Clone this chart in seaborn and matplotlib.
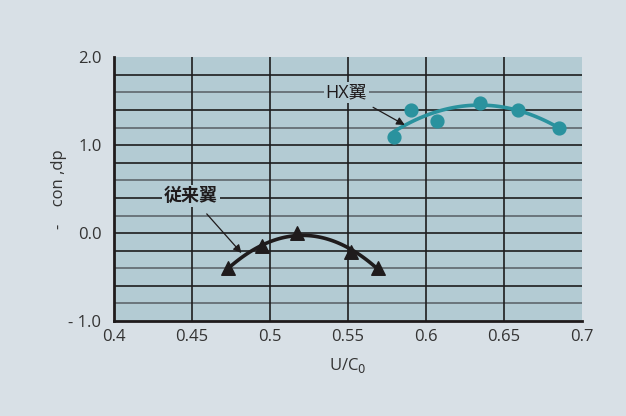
import numpy as np
import pandas as pd
import seaborn as sns
import matplotlib.pyplot as plt
from matplotlib.ticker import MultipleLocator

# conventional blade (triangles)
old_x = [0.4733, 0.4951, 0.5171, 0.5523, 0.5696]
old_y = [-0.40, -0.15, 0.00, -0.22, -0.40]
# HX blade (circles)
hx_x = [0.5793, 0.5904, 0.6073, 0.6346, 0.6590, 0.6857]
hx_y = [1.09, 1.40, 1.28, 1.48, 1.40, 1.19]

xticks = [0.4, 0.45, 0.5, 0.55, 0.6, 0.65, 0.7]
xticklabels = ['0.4', '0.45', '0.5', '0.55', '0.6', '0.65', '0.7']
yticks = [-1.0, 0.0, 1.0, 2.0]
yticklabels = ['- 1.0', '0.0', '1.0', '2.0']
grid_y = [-0.8, -0.6, -0.4, -0.2, 0.0, 0.2, 0.4, 0.6, 0.8, 1.0, 1.2, 1.4, 1.6, 1.8]
grid_dark = [False, True, False, True, True, False, True, False, True, True, False, True, False, True]

old = pd.DataFrame({'x': old_x, 'y': old_y})
hx = pd.DataFrame({'x': hx_x, 'y': hx_y})

sns.set_style('white')
plt.rcParams['font.family'] = ['Open Sans', 'Noto Sans CJK JP', 'DejaVu Sans']

bg = '#d8e0e6'
panel = '#b3cbd3'
teal = '#2a929e'
ink = '#1f1b1c'
txt = '#333333'

fig = plt.figure(figsize=(6.26, 4.16), dpi=100, facecolor=bg)
ax = fig.add_axes([0.1821, 0.2284, 0.7471, 0.6339])
ax.set_facecolor(panel)

# grid
for yv, dk in zip(grid_y, grid_dark):
    ax.axhline(yv, color='#1e1e1e' if dk else '#5e676c', lw=1.2, zorder=1)
for xv in xticks[1:-1]:
    ax.axvline(xv, color='#1e1e1e', lw=1.2, zorder=1)

sns.regplot(data=old, x='x', y='y', order=2, ci=None, ax=ax, color=ink,
            marker='^', scatter_kws={'s': 95, 'zorder': 4, 'alpha': 1},
            line_kws={'lw': 2.6, 'zorder': 3})
sns.regplot(data=hx, x='x', y='y', order=2, ci=None, ax=ax, color=teal,
            marker='o', scatter_kws={'s': 85, 'zorder': 4, 'alpha': 1},
            line_kws={'lw': 2.6, 'zorder': 3})

ax.set_xlim(0.4, 0.7)
ax.set_ylim(-1.0, 2.0)
ax.set_xticks(xticks)
ax.set_xticklabels(xticklabels)
ax.xaxis.set_minor_locator(MultipleLocator(0.01))
ax.set_yticks(yticks)
ax.set_yticklabels(yticklabels)
ax.tick_params(axis='x', which='major', length=0, pad=6, labelsize=12, labelcolor=txt)
ax.tick_params(axis='x', which='minor', direction='in', length=4, width=1, color=ink)
ax.tick_params(axis='y', which='major', direction='in', length=8, width=1.2, color=ink,
               pad=9, labelsize=12, labelcolor=txt)

for s in ['top', 'right']:
    ax.spines[s].set_visible(False)
for s in ['left', 'bottom']:
    ax.spines[s].set_color(ink)
    ax.spines[s].set_linewidth(2)

ax.set_xlabel('U/C$_0$', fontsize=12, color=txt, labelpad=8)
ax.set_ylabel('-    con ,dp', fontsize=12, color=txt, labelpad=1)

ax.annotate('HX翼', xy=(0.5865, 1.23), xytext=(0.5491, 1.60), fontsize=13,
            ha='center', va='center', color=ink, zorder=5,
            bbox=dict(boxstyle='square,pad=0.1', fc=panel, ec='none'),
            arrowprops=dict(arrowstyle='-|>', color=ink, lw=0.9, shrinkA=6, shrinkB=0,
                            mutation_scale=12))
ax.annotate('従来翼', xy=(0.4818, -0.227), xytext=(0.4492, 0.424), fontsize=13,
            fontweight='bold', ha='center', va='center', color=ink, zorder=5,
            bbox=dict(boxstyle='square,pad=0.1', fc=panel, ec='none'),
            arrowprops=dict(arrowstyle='-|>', color=ink, lw=0.9, shrinkA=7, shrinkB=0,
                            mutation_scale=12))

fig.savefig('out.png', dpi=100, facecolor=bg)
